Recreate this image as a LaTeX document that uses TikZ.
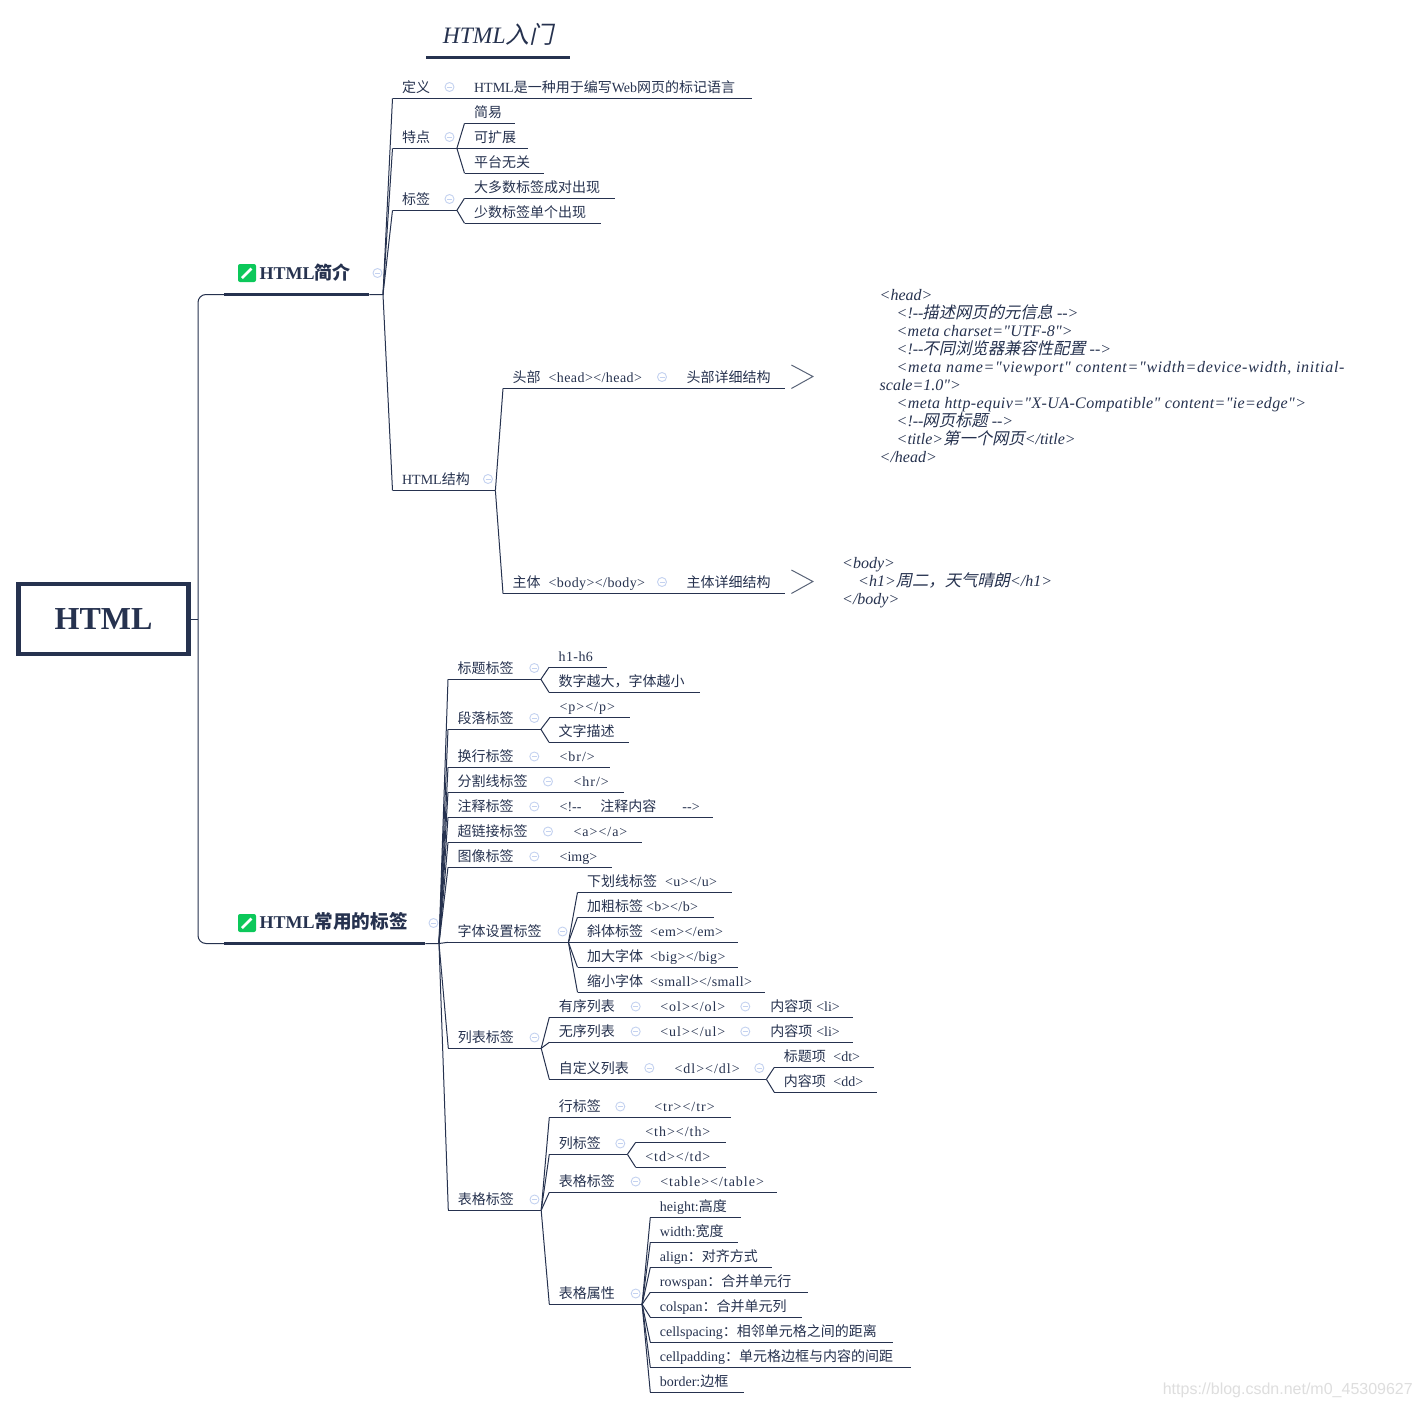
\documentclass[tikz,border=0pt]{standalone}
\usepackage{fontspec}
\usepackage{xcolor}
\usepackage{tikz}
\setmainfont{Liberation Serif}[Ligatures=TeXOff]
\setsansfont{Liberation Sans}
\newfontfamily\cjk{Noto Sans CJK SC}
\newfontfamily\cjkit{Noto Sans CJK SC}[FakeSlant=0.22,Scale=1.02]
\newcommand{\zh}[1]{{\cjk #1}}
\newcommand{\zhit}[1]{{\cjkit #1}}
\newcommand{\tg}[1]{{\addfontfeature{LetterSpace=7}#1}}
\newcommand{\tgs}[1]{{\addfontfeature{LetterSpace=3}#1}}
\definecolor{marino}{RGB}{38,50,79}
\definecolor{verde}{RGB}{12,200,90}
\definecolor{celeste}{RGB}{196,210,240}
\definecolor{plomo}{RGB}{90,100,120}
\definecolor{marca}{RGB}{222,222,222}
\tikzset{
  topic/.style={anchor=south west,inner sep=0pt,text width=#1 pt,text height=11pt,text depth=6pt,align=left,
    text=marino,font=\fontsize{14}{16}\selectfont,execute at begin node={\hspace*{9.4pt}},
    append after command={(\tikzlastnode.south west) edge[draw=marino,line width=1pt] (\tikzlastnode.south east)}},
  maintopic/.style={anchor=south west,inner sep=0pt,text width=#1 pt,text height=20pt,text depth=15pt,align=left,
    text=marino,font=\fontsize{18}{20}\selectfont\bfseries,execute at begin node={\hspace*{35.5pt}},
    append after command={(\tikzlastnode.south west) edge[draw=marino,line width=3.5pt] (\tikzlastnode.south east)}},
  titletopic/.style={anchor=south west,inner sep=0pt,text width=#1 pt,text height=20pt,text depth=14pt,align=center,
    text=marino,font=\fontsize{23.5}{25}\selectfont\itshape,
    append after command={(\tikzlastnode.south west) edge[draw=marino,line width=3.5pt] (\tikzlastnode.south east)}},
  fold/.style={circle,draw=celeste,line width=0.9pt,minimum size=9pt,inner sep=0pt,
    path picture={\draw[celeste,line width=0.9pt] ([xshift=-2.5pt]path picture bounding box.center) -- ([xshift=2.5pt]path picture bounding box.center);}},
  badge/.style={fill=verde,rounded corners=2pt,minimum size=18pt,inner sep=0pt,
    path picture={\draw[white,line width=2.8pt] ([shift={(-5pt,-5pt)}]path picture bounding box.center) -- ([shift={(4.5pt,4.5pt)}]path picture bounding box.center);}},
  link/.style={draw=marino,line width=1pt},
  codenote/.style={anchor=west,inner sep=0pt,align=left,text=marino,font=\fontsize{16}{18}\selectfont\itshape},
  chevron/.style={draw=plomo,line width=1pt}
}
\begin{document}
\begin{tikzpicture}[x=1pt,y=-1pt]
\useasboundingbox[fill=white] (0,0) rectangle (1422,1408);
\node[titletopic=144] (titulo) at (426,57.7) {HTML\zhit{入门}};

\node[draw=marino,line width=4.5pt,minimum width=170pt,minimum height=70pt,text=marino,font=\fontsize{32}{34}\selectfont\bfseries] (root) at (103.5,619) {HTML};

\node[maintopic=145] (intro) at (224,294.5) {HTML\zh{简介}};
\node[badge] (introIcon) at (247,273) {};
\node[fold] (introFold) at (377.5,273) {};
\node[maintopic=201] (tags) at (224,943.5) {HTML\zh{\fontsize{18.6}{20}\selectfont 常用的标签}};
\node[badge] (tagsIcon) at (247,923) {};
\node[fold] (tagsFold) at (433.5,923) {};
\coordinate (rootFan) at (198,619);
\draw[link] (root.east) -- (rootFan);
\draw[link,rounded corners=8pt] (intro.south west) -| (rootFan) |- (tags.south west);

\node[topic=64] (def) at (392.5,98.3) {\zh{定义}};
\node[fold] (defFold) at (449.5,87) {};
\node[topic=287.5] (defTxt) at (464.5,98.3) {HTML\zh{是一种用于编写}Web\zh{网页的标记语言}};
\node[topic=64] (feat) at (392.5,148.3) {\zh{特点}};
\node[fold] (featFold) at (449.5,137) {};
\node[topic=50.5] (featA) at (464.5,123.3) {\zh{简易}};
\node[topic=63.5] (featB) at (464.5,148.3) {\zh{可扩展}};
\node[topic=79.5] (featC) at (464.5,173.3) {\zh{平台无关}};
\node[topic=64] (mark) at (392.5,210.3) {\zh{标签}};
\node[fold] (markFold) at (449.5,199) {};
\node[topic=150] (markA) at (464.5,198.3) {\zh{大多数标签成对出现}};
\node[topic=136] (markB) at (464.5,223.3) {\zh{少数标签单个出现}};
\node[topic=102.5] (struct) at (392.5,490.5) {HTML\zh{结构}};
\node[fold] (structFold) at (488,479) {};
\node[topic=166] (head) at (503,388.5) {\zh{头部}\hspace{8pt}\tgs{<head></head>}};
\node[fold] (headFold) at (662,377) {};
\node[topic=108] (headTxt) at (677,388.5) {\zh{头部详细结构}};
\node[topic=166] (body) at (503,593.5) {\zh{主体}\hspace{8pt}\tgs{<body></body>}};
\node[fold] (bodyFold) at (662,582) {};
\node[topic=108] (bodyTxt) at (677,593.5) {\zh{主体详细结构}};
\coordinate (introFan) at (383,294.5);
\draw[link] (intro.south east) -- (introFan) -- (def.south west);
\draw[link] (introFan) -- (feat.south west);
\draw[link] (introFan) -- (mark.south west);
\draw[link] (introFan) -- (struct.south west);
\draw[link] (def.south east) -- (defTxt.south west);
\draw[link] (feat.south east) -- (featA.south west);
\draw[link] (feat.south east) -- (featB.south west);
\draw[link] (feat.south east) -- (featC.south west);
\draw[link] (mark.south east) -- (markA.south west);
\draw[link] (mark.south east) -- (markB.south west);
\draw[link] (struct.south east) -- (head.south west);
\draw[link] (struct.south east) -- (body.south west);
\draw[link] (head.south east) -- (headTxt.south west);
\draw[link] (body.south east) -- (bodyTxt.south west);
\draw[chevron] ([shift={(6,-23.5)}]headTxt.south east) -- ++(21.5,11.5) -- ++(-21.5,12);
\draw[chevron] ([shift={(6,-23.5)}]bodyTxt.south east) -- ++(21.5,11.5) -- ++(-21.5,12);

\node[codenote] (headNote) at (879.5,376) {<head>\\
\hspace*{17pt}<!--\hspace{-1pt}\zhit{描述网页的元信息} -->\\
\hspace*{17pt}{\addfontfeature{LetterSpace=1.4}<meta charset="UTF-8">}\\
\hspace*{17pt}<!--\hspace{-1pt}\zhit{不同浏览器兼容性配置} -->\\
\hspace*{17pt}{\addfontfeature{LetterSpace=4.4}<meta name="viewport" content="width=device-width, initial-}\\
scale=1.0">\\
\hspace*{17pt}{\addfontfeature{LetterSpace=2.4}<meta http-equiv="X-UA-Compatible" content="ie=edge">}\\
\hspace*{17pt}<!--\hspace{-1pt}\zhit{网页标题} -->\\
\hspace*{17pt}<title>\zhit{第一个网页}</title>\\
</head>};
\node[codenote] (bodyNote) at (842,583) {<body>\\
\hspace*{16pt}<h1>\zhit{周二，天气晴朗}</h1>\\
</body>};

\node[topic=92.5] (heading) at (448,679.3) {\zh{标题标签}};
\node[fold] (headingFold) at (534.3,668) {};
\node[topic=58] (headingA) at (549,667.3) {\tgs{h1-h6}};
\node[topic=150.5] (headingB) at (549,692.3) {\zh{数字越大，字体越小}};
\node[topic=92.5] (para) at (448,729.3) {\zh{段落标签}};
\node[fold] (paraFold) at (534.3,718) {};
\node[topic=79.5] (paraA) at (550,717.3) {\tg{<p></p>}};
\node[topic=79.5] (paraB) at (549,742.3) {\zh{文字描述}};
\node[topic=92.5] (brk) at (448,767.3) {\zh{换行标签}};
\node[fold] (brkFold) at (534.3,756.5) {};
\node[topic=59.5] (brkTxt) at (550,767.3) {\tg{<br/>}};
\node[topic=106.5] (hrule) at (448,792.3) {\zh{分割线标签}};
\node[fold] (hruleFold) at (548,781.5) {};
\node[topic=59.5] (hruleTxt) at (564,792.3) {\tg{<hr/>}};
\node[topic=92.5] (note) at (448,817.3) {\zh{注释标签}};
\node[fold] (noteFold) at (534.3,806.5) {};
\node[topic=162.5] (noteTxt) at (550,817.3) {<!--\hspace{19pt}\zh{注释内容}\hspace{26pt}-->};
\node[topic=106.5] (anchorTag) at (448,842.3) {\zh{超链接标签}};
\node[fold] (anchorFold) at (548,831.5) {};
\node[topic=77.8] (anchorTxt) at (564,842.3) {\tg{<a></a>}};
\node[topic=92.5] (image) at (448,867.3) {\zh{图像标签}};
\node[fold] (imageFold) at (534.3,856.5) {};
\node[topic=61.8] (imageTxt) at (550,867.3) {<img>};
\node[topic=120] (font) at (448,942.3) {\zh{字体设置标签}};
\node[fold] (fontFold) at (562.5,931.5) {};
\node[topic=154.3] (fontA) at (577.5,892.3) {\zh{下划线标签}\hspace{8pt}\tgs{<u></u>}};
\node[topic=136.1] (fontB) at (577.5,917.3) {\zh{加粗标签}\hspace{3pt}\tgs{<b></b>}};
\node[topic=160] (fontC) at (577.5,942.3) {\zh{斜体标签}\hspace{7pt}\tgs{<em></em>}};
\node[topic=160] (fontD) at (577.5,967.3) {\zh{加大字体}\hspace{7pt}\tgs{<big></big>}};
\node[topic=187.5] (fontE) at (577.5,992.3) {\zh{缩小字体}\hspace{7pt}\tgs{<small></small>}};
\node[topic=92.5] (list) at (448.3,1048.3) {\zh{列表标签}};
\node[fold] (listFold) at (534.5,1037.5) {};
\node[topic=92.7] (listA) at (549.3,1017.3) {\zh{有序列表}};
\node[fold] (listAFold) at (635.7,1006.5) {};
\node[topic=102] (listATag) at (650.7,1017.3) {\tg{<ol></ol>}};
\node[fold] (listATagFold) at (745.3,1006.5) {};
\node[topic=92] (listAItem) at (760.7,1017.3) {\zh{内容项}\hspace{4pt}<li>};
\node[topic=92.7] (listB) at (549.3,1042.3) {\zh{无序列表}};
\node[fold] (listBFold) at (635.7,1031.5) {};
\node[topic=102] (listBTag) at (650.7,1042.3) {\tg{<ul></ul>}};
\node[fold] (listBTagFold) at (745.3,1031.5) {};
\node[topic=92] (listBItem) at (760.7,1042.3) {\zh{内容项}\hspace{4pt}<li>};
\node[topic=106.7] (listC) at (549.3,1079.3) {\zh{自定义列表}};
\node[fold] (listCFold) at (649.3,1068) {};
\node[topic=101] (listCTag) at (665,1079.3) {\tg{<dl></dl>}};
\node[fold] (listCTagFold) at (759.3,1068) {};
\node[topic=99.4] (listCTerm) at (774.3,1067.3) {\zh{标题项}\hspace{7.5pt}<dt>};
\node[topic=102.4] (listCDesc) at (774.3,1092.3) {\zh{内容项}\hspace{7.5pt}<dd>};
\node[topic=92.5] (table) at (448.3,1210.3) {\zh{表格标签}};
\node[fold] (tableFold) at (534.5,1199.5) {};
\node[topic=77.7] (row) at (549.3,1117.3) {\zh{行标签}};
\node[fold] (rowFold) at (620.3,1106.5) {};
\node[topic=86] (rowTxt) at (644.7,1117.3) {\tg{<tr></tr>}};
\node[topic=77.7] (col) at (549.3,1154.3) {\zh{列标签}};
\node[fold] (colFold) at (620.3,1143.5) {};
\node[topic=90] (colA) at (635.7,1142.3) {\tg{<th></th>}};
\node[topic=90] (colB) at (635.7,1167.3) {\tg{<td></td>}};
\node[topic=92.7] (tableTag) at (549.3,1192.3) {\zh{表格标签}};
\node[fold] (tableTagFold) at (635.7,1181.5) {};
\node[topic=126] (tableTxt) at (650.7,1192.3) {\tg{<table></table>}};
\node[topic=92.4] (attr) at (549.3,1304.3) {\zh{表格属性}};
\node[fold] (attrFold) at (635.7,1293.5) {};
\node[topic=90.4] (attrA) at (650.3,1217.3) {height:\zh{高度}};
\node[topic=87.4] (attrB) at (650.3,1242.3) {width:\zh{宽度}};
\node[topic=121.4] (attrC) at (650.3,1267.3) {align\zh{：对齐方式}};
\node[topic=157.4] (attrD) at (650.3,1292.3) {rowspan\zh{：合并单元行}};
\node[topic=151.4] (attrE) at (650.3,1317.3) {colspan\zh{：合并单元列}};
\node[topic=242.4] (attrF) at (650.3,1342.3) {cellspacing\zh{：相邻单元格之间的距离}};
\node[topic=260.4] (attrG) at (650.3,1367.3) {cellpadding\zh{：单元格边框与内容的间距}};
\node[topic=93] (attrH) at (650.3,1392.3) {border:\zh{边框}};

\coordinate (tagsFan) at (439,943.5);
\draw[link] (tags.south east) -- (tagsFan) -- (heading.south west);
\draw[link] (tagsFan) -- (para.south west);
\draw[link] (tagsFan) -- (brk.south west);
\draw[link] (tagsFan) -- (hrule.south west);
\draw[link] (tagsFan) -- (note.south west);
\draw[link] (tagsFan) -- (anchorTag.south west);
\draw[link] (tagsFan) -- (image.south west);
\draw[link] (tagsFan) -- (font.south west);
\draw[link] (tagsFan) -- (list.south west);
\draw[link] (tagsFan) -- (table.south west);
\draw[link] (heading.south east) -- (headingA.south west);
\draw[link] (heading.south east) -- (headingB.south west);
\draw[link] (para.south east) -- (paraA.south west);
\draw[link] (para.south east) -- (paraB.south west);
\draw[link] (brk.south east) -- (brkTxt.south west);
\draw[link] (hrule.south east) -- (hruleTxt.south west);
\draw[link] (note.south east) -- (noteTxt.south west);
\draw[link] (anchorTag.south east) -- (anchorTxt.south west);
\draw[link] (image.south east) -- (imageTxt.south west);
\draw[link] (font.south east) -- (fontA.south west);
\draw[link] (font.south east) -- (fontB.south west);
\draw[link] (font.south east) -- (fontC.south west);
\draw[link] (font.south east) -- (fontD.south west);
\draw[link] (font.south east) -- (fontE.south west);
\draw[link] (list.south east) -- (listA.south west);
\draw[link] (list.south east) -- (listB.south west);
\draw[link] (list.south east) -- (listC.south west);
\draw[link] (listA.south east) -- (listATag.south west);
\draw[link] (listATag.south east) -- (listAItem.south west);
\draw[link] (listB.south east) -- (listBTag.south west);
\draw[link] (listBTag.south east) -- (listBItem.south west);
\draw[link] (listC.south east) -- (listCTag.south west);
\draw[link] (listCTag.south east) -- (listCTerm.south west);
\draw[link] (listCTag.south east) -- (listCDesc.south west);
\draw[link] (table.south east) -- (row.south west);
\draw[link] (table.south east) -- (col.south west);
\draw[link] (table.south east) -- (tableTag.south west);
\draw[link] (table.south east) -- (attr.south west);
\draw[link] (row.south east) -- (rowTxt.south west);
\draw[link] (col.south east) -- (colA.south west);
\draw[link] (col.south east) -- (colB.south west);
\draw[link] (tableTag.south east) -- (tableTxt.south west);
\draw[link] (attr.south east) -- (attrA.south west);
\draw[link] (attr.south east) -- (attrB.south west);
\draw[link] (attr.south east) -- (attrC.south west);
\draw[link] (attr.south east) -- (attrD.south west);
\draw[link] (attr.south east) -- (attrE.south west);
\draw[link] (attr.south east) -- (attrF.south west);
\draw[link] (attr.south east) -- (attrG.south west);
\draw[link] (attr.south east) -- (attrH.south west);

\node[anchor=east,inner sep=0pt,text=marca,font=\fontsize{16}{18}\sffamily] (watermark) at (1413,1390) {https://blog.csdn.net/m0\_45309627};
\end{tikzpicture}
\end{document}
